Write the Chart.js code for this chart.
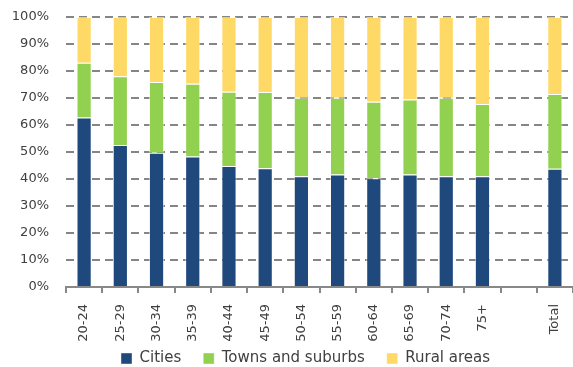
<!DOCTYPE html>
<html>
<head>
<meta charset="utf-8">
<script src="https://cdn.jsdelivr.net/npm/chart.js@4/dist/chart.umd.min.js"></script>
<style>
  html, body { margin: 0; padding: 0; background: #ffffff; }
  #wrap { width: 573px; height: 367px; }
</style>
</head>
<body>
<div id="wrap"><canvas id="c" width="573" height="367"></canvas></div>
<script>
// Share of population by degree of urbanisation, per age group (%)
const categories = ['20-24', '25-29', '30-34', '35-39', '40-44', '45-49', '50-54',
                    '55-59', '60-64', '65-69', '70-74', '75+', '', 'Total'];
const cities = [62.8, 52.6, 49.7, 48.3, 44.8, 44.0, 41.0, 41.7, 40.3, 41.7, 41.0, 41.0, null, 43.8];
const towns  = [20.3, 25.5, 26.2, 27.0, 27.5, 28.2, 29.1, 28.4, 28.3, 27.7, 29.1, 26.8, null, 27.7];
const rural  = [16.9, 21.9, 24.1, 24.7, 27.7, 27.8, 29.9, 29.9, 31.4, 30.6, 29.9, 32.2, null, 28.5];
const yTicks = ['0%', '10%', '20%', '30%', '40%', '50%', '60%', '70%', '80%', '90%', '100%'];

const fontFamily = 'Verdana, "DejaVu Sans", sans-serif';
const textColor = '#404040';

const barStyle = {
  barPercentage: 0.42,
  categoryPercentage: 1.0,
  borderWidth: { top: 1, left: 1, right: 1, bottom: 0 },
  borderColor: 'rgba(255,255,255,0.55)',
  borderSkipped: 'bottom'
};

// Legend: compact box in the layout, wide spacing between items
const legendPlacement = {
  id: 'legendPlacement',
  beforeLayout(chart) {
    const lg = chart.legend;
    if (lg && !lg._wrapped) {
      const fit = lg.fit.bind(lg);
      lg.fit = function () { fit(); this.height = 20; };
      lg._wrapped = true;
    }
  },
  beforeDraw(chart) {
    const lg = chart.legend;
    if (!lg) return;
    lg.left = 99;
    lg.right = 573;
    lg.top = 329;
    lg.bottom = 367;
  }
};

new Chart(document.getElementById('c'), {
  type: 'bar',
  data: {
    labels: categories,
    datasets: [
      Object.assign({ label: 'Cities', data: cities, backgroundColor: '#1f487c' }, barStyle),
      Object.assign({ label: 'Towns and suburbs', data: towns, backgroundColor: '#92d050' }, barStyle),
      Object.assign({ label: 'Rural areas', data: rural, backgroundColor: '#ffd966' }, barStyle)
    ]
  },
  options: {
    responsive: false,
    animation: false,
    layout: { padding: { top: 17, right: 0, bottom: 0, left: 0 } },
    plugins: {
      tooltip: { enabled: false },
      legend: {
        position: 'bottom',
        align: 'start',
        labels: {
          font: { family: fontFamily, size: 15 },
          color: textColor,
          boxWidth: 11,
          boxHeight: 11,
          padding: 22
        }
      }
    },
    scales: {
      x: {
        stacked: true,
        offset: true,
        grid: {
          offset: true,
          drawOnChartArea: false,
          drawTicks: true,
          tickLength: 6,
          color: '#888888',
          lineWidth: 2
        },
        border: { display: true, color: '#888888', width: 2 },
        ticks: {
          color: textColor,
          font: { family: fontFamily, size: 13 },
          minRotation: 90,
          maxRotation: 90,
          autoSkip: false,
          padding: 11
        },
        afterFit: s => {
          s.height = 60;
          s.paddingTop = 0; s.paddingBottom = 0;
          s.paddingLeft = 0; s.paddingRight = 0;
        }
      },
      y: {
        stacked: true,
        min: 0,
        max: 100,
        grid: {
          color: '#858585',
          lineWidth: 2,
          drawTicks: false
        },
        border: { display: true, color: 'rgba(0,0,0,0)', width: 0, dash: [8, 5] },
        ticks: {
          stepSize: 10,
          color: textColor,
          font: { family: fontFamily, size: 13 },
          padding: 17,
          callback: (v, i) => yTicks[i]
        },
        afterFit: s => { s.width = 66; s.paddingTop = 0; s.paddingBottom = 0; }
      }
    }
  },
  plugins: [legendPlacement]
});
</script>
</body>
</html>
